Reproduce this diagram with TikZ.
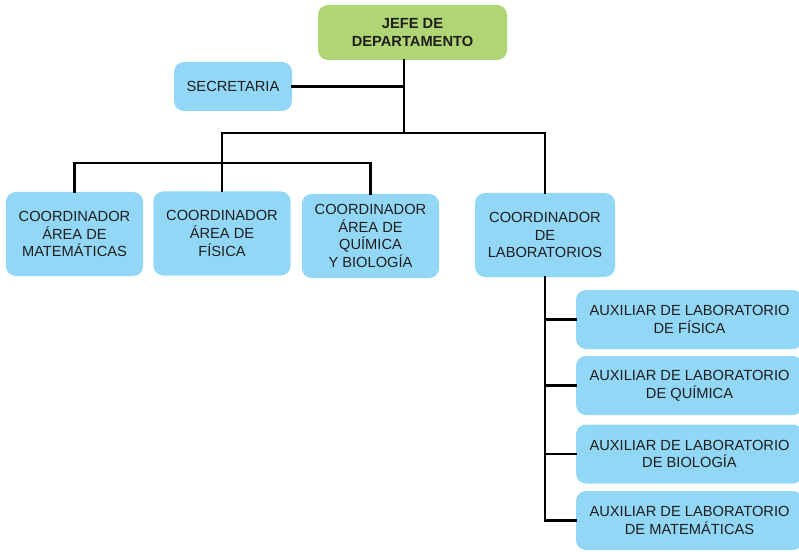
\documentclass[tikz,border=0pt]{standalone}
\usepackage{fontspec}
\setsansfont{Liberation Sans}
\usepackage{xcolor}
\usepackage{tikz}
\usetikzlibrary{positioning}
\definecolor{orgBlue}{HTML}{92D7F6}
\definecolor{orgGreen}{HTML}{AFD574}
\definecolor{orgInk}{HTML}{1E1E1E}
\tikzset{
  org chart/.style={font=\sffamily\fontsize{11}{13.2}\selectfont, text=orgInk,
    line cap=rect, line join=miter},
  org box/.style={fill=orgBlue, draw=none, rounded corners=7.5pt,
    align=center, inner sep=2pt, minimum width=103pt, minimum height=63pt},
  org head box/.style={org box, fill=orgGreen, font=\sffamily\bfseries\fontsize{11}{13.2}\selectfont,
    minimum width=141.75pt, minimum height=41.25pt},
  org small box/.style={org box, minimum width=88.5pt, minimum height=36.75pt},
  org aux box/.style={org box, minimum width=170.25pt, minimum height=44.25pt},
  org line/.style={draw=black, line width=1.6pt}
}

\begin{document}
\begin{tikzpicture}[org chart,x=0.75pt,y=-0.75pt]
\useasboundingbox (0,0) rectangle (799,552);
\clip (0,0) rectangle (799,552);
% head and secretary
\node[org head box] (jefe) at (412.5,32.5) {JEFE DE\\DEPARTAMENTO};
\node[org small box] (sec) at (233,86.5) {SECRETARIA};
% area coordinators
\node[org box] (mat) at (74.5,234) {COORDINADOR\\ÁREA DE\\MATEMÁTICAS};
\node[org box] (fis) at (222,233.5) {COORDINADOR\\ÁREA DE\\FÍSICA};
\node[org box] (qyb) at (370.5,236) {COORDINADOR\\ÁREA DE\\QUÍMICA\\Y BIOLOGÍA};
\node[org box,minimum width=105pt] (lab) at (545,235) {COORDINADOR\\DE\\LABORATORIOS};
% lab assistants
\foreach \i/\y/\txt in {1/319.5/FÍSICA,2/385.5/QUÍMICA,3/454/BIOLOGÍA,4/520.5/MATEMÁTICAS}
  \node[org aux box] (aux\i) at (689.5,\y) {AUXILIAR DE LABORATORIO\\DE \txt};
% connectors
\coordinate (top) at (404,133);
\coordinate (bar) at (370.5,163);
\draw[org line] (jefe.south -| top) -- (top);
\draw[org line] (sec.east) -- (sec.east -| top);
\draw[org line] (fis.north) |- (top) -| (lab.north);
\draw[org line] (mat.north) |- (bar) -- (qyb.north);
\draw[org line] (lab.south) -- (lab.south |- aux4.west);
\foreach \i in {1,...,4}
  \draw[org line] (aux\i.west -| lab.south) -- (aux\i.west);
\end{tikzpicture}
\end{document}
